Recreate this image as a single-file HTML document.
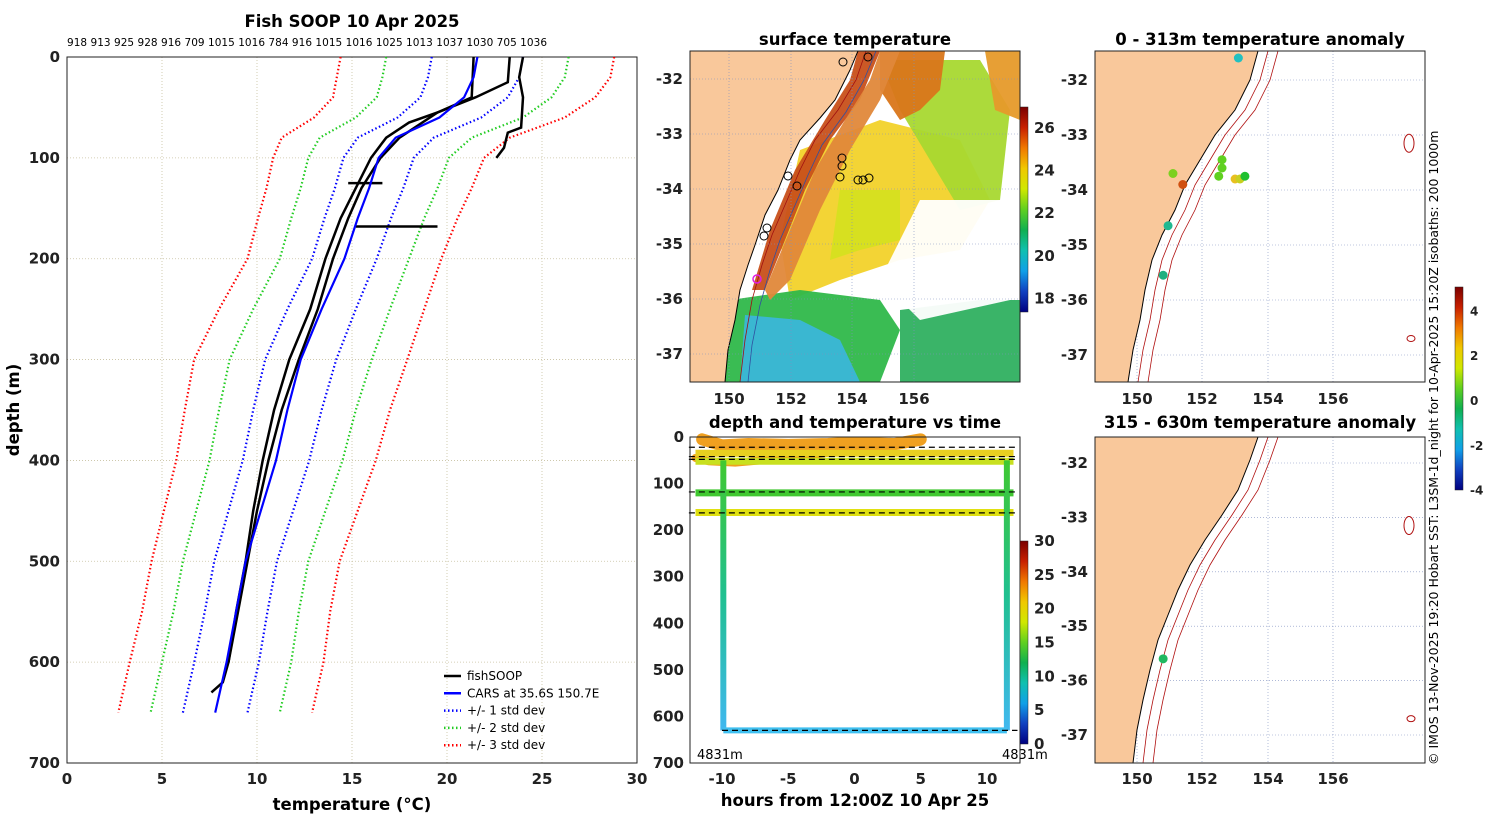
<!DOCTYPE html>
<html><head><meta charset="utf-8"><style>
body{margin:0;background:#fff;}
svg{display:block;font-family:"DejaVu Sans","Liberation Sans",sans-serif;}
.tk{font-size:15px;font-weight:bold;fill:#222;}
.tt{font-size:16.5px;font-weight:bold;fill:#000;}
</style></head><body>
<svg id="fig" width="1500" height="820" viewBox="0 0 1500 820">
<g id="left"></g>
<g id="mapTop"></g>
<g id="mid"></g>
<g id="rmap1"></g>
<g id="rmap2"></g>
<text x="1438" y="765" transform="rotate(-90 1438 765)" style="font-size:12.5px">© IMOS 13-Nov-2025 19:20 Hobart SST: L3SM-1d_night for 10-Apr-2025 15:20Z isobaths: 200  1000m</text>
</svg>
<script>
const NS="http://www.w3.org/2000/svg";
function el(parent,tag,attrs,text){const e=document.createElementNS(NS,tag);for(const k in attrs)e.setAttribute(k,attrs[k]);if(text!==undefined)e.textContent=text;parent.appendChild(e);return e;}

// ---------- LEFT PROFILE CHART DATA ----------
const depths=[0,20,40,60,80,100,130,160,200,250,300,350,400,450,500,550,600,650];
const carsMean=[21.6,21.4,20.9,19.6,17.3,16.4,15.9,15.3,14.6,13.4,12.3,11.6,11.0,10.2,9.4,8.9,8.4,7.8];
const carsSd=[2.4,2.4,2.3,2.2,2.0,1.85,1.8,1.75,1.7,1.8,1.87,1.8,1.75,1.7,1.65,1.65,1.7,1.7];
const topLabels=["918","913","925","928","916","709","1015","1016","784","916","1015","1016","1025","1013","1037","1030","705","1036"];
const xTicks=[0,5,10,15,20,25,30];
const yTicks=[0,100,200,300,400,500,600,700];
const prof1T=[21.4,21.3,19.5,18.0,16.8,16.0,15.2,14.4,13.6,12.8,11.7,10.9,10.3,9.8,9.4,8.9,8.5,8.2,7.6];
const prof1D=[0,40,55,65,80,100,130,160,200,250,300,350,400,450,500,550,600,620,630];
const prof2T=[23.3,23.2,21.5,19.5,17.5,16.5,15.5,14.8,14.0,13.2,12.2,11.3,10.6,10.0,9.5,9.0,8.5];
const prof2D=[0,25,40,55,80,100,130,160,200,250,300,350,400,450,500,550,600];
const prof3T=[24.0,23.8,24.0,23.9,23.2,23.0,22.6];
const prof3D=[0,20,40,70,75,90,100];
const segs=[[14.8,16.6,125],[15.2,19.5,168]];

const L=document.getElementById('left');
const lx=v=>67+v*19, ly=d=>57+d*706/700;
// grid
xTicks.forEach(t=>{if(t>0&&t<30)el(L,'line',{x1:lx(t),x2:lx(t),y1:57,y2:763,stroke:'#c8c0a0','stroke-dasharray':'1,2','stroke-width':0.8});});
yTicks.forEach(t=>{if(t>0&&t<700)el(L,'line',{x1:67,x2:637,y1:ly(t),y2:ly(t),stroke:'#c8c0a0','stroke-dasharray':'1,2','stroke-width':0.8});});
el(L,'rect',{x:67,y:57,width:570,height:706,fill:'none',stroke:'#222','stroke-width':1});
xTicks.forEach(t=>{const tx=el(L,'text',{x:lx(t),y:784,'text-anchor':'middle',class:'tk'},String(t));});
yTicks.forEach(t=>{const tx=el(L,'text',{x:60,y:ly(t)+5,'text-anchor':'end',class:'tk'},String(t));});
el(L,'text',{x:352,y:810,'text-anchor':'middle',class:'tt'},'temperature (\u00B0C)');
el(L,'text',{x:19,y:410,'text-anchor':'middle',class:'tt',transform:'rotate(-90 19 410)'},'depth (m)');
el(L,'text',{x:352,y:27,'text-anchor':'middle',class:'tt'},'Fish SOOP 10 Apr 2025');
el(L,'text',{x:67,y:46,style:'font-size:10.5px',textLength:480},topLabels.join(' '));
function poly(g,xs,ys,attrs,name){const p=el(g,'polyline',Object.assign({points:xs.map((x,i)=>x+','+ys[i]).join(' '),fill:'none'},attrs));return p;}
const sdCols={1:'#0000ff',2:'#22cc22',3:'#ff0000'};
[3,2,1].forEach(k=>{[-1,1].forEach(s=>{poly(L,carsMean.map((m,i)=>lx(m+s*k*carsSd[i])),depths.map(ly),{stroke:sdCols[k],'stroke-width':2.2,'stroke-dasharray':'1.5,2.5'},'std-dev-'+k+(s<0?'-minus':'-plus'));});});
poly(L,prof1T.map(lx),prof1D.map(ly),{stroke:'#000','stroke-width':2.5},'fishsoop-profile-1');
poly(L,prof2T.map(lx),prof2D.map(ly),{stroke:'#000','stroke-width':2.5},'fishsoop-profile-2');
poly(L,prof3T.map(lx),prof3D.map(ly),{stroke:'#000','stroke-width':2.5},'fishsoop-profile-3');
segs.forEach(s=>{poly(L,[lx(s[0]),lx(s[1])],[ly(s[2]),ly(s[2])],{stroke:'#000','stroke-width':2.5},'fishsoop-segment');});
poly(L,carsMean.map(lx),depths.map(ly),{stroke:'#0000ff','stroke-width':2.2},'cars-profile');
// legend
const leg=[['fishSOOP','#000',''],['CARS at 35.6S 150.7E','#0000ff',''],['+/- 1 std dev','#0000ff','1.5,2.5'],['+/- 2 std dev','#22cc22','1.5,2.5'],['+/- 3 std dev','#ff0000','1.5,2.5']];
leg.forEach((e,i)=>{const y=676+i*17.3;const g=el(L,'g',{});
el(g,'line',{x1:444,x2:461,y1:y,y2:y,stroke:e[1],'stroke-width':2.5,'stroke-dasharray':e[2]});el(g,'text',{x:467,y:y+4,style:'font-size:12px'},e[0]);});

// ---------- MIDDLE TOP MAP ----------
const M=document.getElementById('mapTop');
el(M,'rect',{x:690,y:51,width:330,height:331,fill:'#fff'});
const fields=[
 ['#f2d22a','800,150 880,120 960,140 990,200 960,250 900,260 840,280 790,300 780,240'],
 ['#a8d830','880,60 980,60 1010,110 1000,200 960,210 930,160 900,110'],
 ['#d5e020','840,190 900,190 900,240 860,250 830,260'],
 ['#d9761a','880,51 945,51 940,90 920,110 900,120 880,90'],
 ['#e69a2a','985,51 1020,51 1020,120 995,110'],
 ['#2fb84a','730,300 800,290 880,300 900,330 880,382 725,382'],
 ['#3ab6d8','745,315 800,320 840,340 860,382 740,382'],
 ['#2fb060','900,310 980,300 1020,300 1020,382 900,382'],
 ['#ffffff','920,200 1010,200 1010,300 920,320 880,280'],
 ['#c8501a','858,51 880,51 860,100 830,140 805,190 785,240 765,290 752,290 770,230 795,170 825,120 850,80'],
 ['#e0883a','880,51 900,51 880,100 850,150 820,210 790,280 770,300 765,290 790,230 815,170 845,120 870,80']
];
fields.forEach(f=>{const p=el(M,'polygon',{points:f[1],fill:f[0],opacity:0.95});});
const coastM='690,51 858,51 850,70 835,100 820,118 800,140 790,160 778,190 765,215 755,245 748,265 740,290 735,320 728,350 725,382 690,382';
el(M,'polygon',{points:coastM,fill:'#f9c89b',stroke:'#000','stroke-width':1});
el(M,'polyline',{points:'866,51 856,80 838,110 815,140 800,170 785,205 772,235 762,265 752,300 745,340 740,382',fill:'none',stroke:'#a01010','stroke-width':0.8});
el(M,'polyline',{points:'876,51 864,80 846,112 822,145 808,175 793,210 780,240 770,270 760,305 752,345 748,382',fill:'none',stroke:'#3050a0','stroke-width':0.8});
const mLonT=[150,152,154,156], mLonX=[729,791,852,914], mLatT=[-32,-33,-34,-35,-36,-37];
const mlat=v=>79+(-32-v)*55;
mLonT.forEach((t,i)=>{el(M,'line',{x1:mLonX[i],x2:mLonX[i],y1:51,y2:382,stroke:'#8090c0','stroke-dasharray':'1,2','stroke-width':0.6});el(M,'text',{x:mLonX[i],y:404,'text-anchor':'middle',class:'tk'},String(t));});
mLatT.forEach(t=>{el(M,'line',{x1:690,x2:1020,y1:mlat(t),y2:mlat(t),stroke:'#8090c0','stroke-dasharray':'1,2','stroke-width':0.6});el(M,'text',{x:683,y:mlat(t)+5,'text-anchor':'end',class:'tk'},String(t));});
el(M,'rect',{x:690,y:51,width:330,height:331,fill:'none',stroke:'#222'});
el(M,'text',{x:855,y:45,'text-anchor':'middle',class:'tt'},'surface temperature');
const circ=[[868,57],[843,62],[788,176],[797,186],[842,158],[842,166],[840,177],[858,180],[863,180],[869,178],[767,228],[764,236]];
circ.forEach(c=>{const e=el(M,'circle',{cx:c[0],cy:c[1],r:4,fill:'none',stroke:'#000','stroke-width':1});});
el(M,'circle',{cx:757,cy:279,r:4,fill:'none',stroke:'#e020e0','stroke-width':1.5});
// colorbar
const jet=['#7a0000','#c82000','#f07800','#f0c800','#d0e800','#60d020','#10b050','#10c0b0','#10a0e8','#1040c0','#000080'];
function cbar(g,x,y,h,id){const d=el(g,'defs',{});const lg=el(d,'linearGradient',{id:id,x1:0,y1:0,x2:0,y2:1});jet.forEach((c,i)=>el(lg,'stop',{offset:i/(jet.length-1),'stop-color':c}));el(g,'rect',{x:x,y:y,width:8,height:h,fill:'url(#'+id+')',stroke:'#222','stroke-width':0.5});}
cbar(M,1020,107,205,'cb1');
const cb1T=[26,24,22,20,18];
cb1T.forEach(t=>{el(M,'text',{x:1034,y:128+(26-t)*21.3+5,class:'tk'},String(t));});

// ---------- MIDDLE BOTTOM CHART ----------
const B=document.getElementById('mid');
const hx=h=>854.5+h*13.25, dy=d=>437+d*326/700;
const hTicks=[-10,-5,0,5,10], dTicks=[0,100,200,300,400,500,600,700];
const bandDepths=[35,52,120,162];
const bandCols=['#e8d020','#c8e020','#40c830','#e0e010'];
const dashDepths=[22,42,48,118,163,630];
const legHours=[-9.9,11.5];
const bottomDepth=630;
const orangeTrace=[[-12,45],[-11,52],[-9,55],[-7,50],[-5,42],[-3,38],[-1,30],[1,25],[3,20],[5,10]];
const orangeTop=[[-11.5,5],[-10,18],[-8,15],[-5,17],[-2,15],[0,12],[3,15],[5,5]];
el(B,'rect',{x:690,y:437,width:330,height:326,fill:'#fff'});
poly(B,orangeTrace.map(p=>hx(p[0])),orangeTrace.map(p=>dy(p[1])),{stroke:'#f0a020','stroke-width':8,'stroke-linecap':'round'},'surface-trace');
poly(B,orangeTop.map(p=>hx(p[0])),orangeTop.map(p=>dy(p[1])),{stroke:'#f0a020','stroke-width':12,'stroke-linecap':'round'},'surface-trace-top');
bandDepths.forEach((d,i)=>poly(B,[hx(-12),hx(12)],[dy(d),dy(d)],{stroke:bandCols[i],'stroke-width':7},'depth-band'));
legHours.forEach(h=>{const dd=el(B,'defs',{});const id='lg'+String(h).replace('.','_').replace('-','m');const lg=el(dd,'linearGradient',{id:id,x1:0,y1:0,x2:0,y2:1,gradientUnits:'userSpaceOnUse',x2v:0});lg.setAttribute('y1',dy(50));lg.setAttribute('y2',dy(630));lg.setAttribute('x1',0);lg.setAttribute('x2',0);
el(lg,'stop',{offset:0,'stop-color':'#40c830'});el(lg,'stop',{offset:0.5,'stop-color':'#20c090'});el(lg,'stop',{offset:1,'stop-color':'#40b8f0'});
const r=el(B,'rect',{x:hx(h)-3,y:dy(50),width:6,height:dy(630)-dy(50),fill:'url(#'+id+')'});});
poly(B,[hx(legHours[0]),hx(legHours[1])],[dy(bottomDepth),dy(bottomDepth)],{stroke:'#40c0f0','stroke-width':6},'bottom-track');
dashDepths.forEach(d=>poly(B,[hx(d===630?-10:-12.5),hx(12.3)],[dy(d),dy(d)],{stroke:'#000','stroke-width':1.2,'stroke-dasharray':'6,4'},'depth-marker-line'));
el(B,'rect',{x:690,y:437,width:330,height:326,fill:'none',stroke:'#222'});
hTicks.forEach(t=>el(B,'text',{x:hx(t),y:784,'text-anchor':'middle',class:'tk'},String(t)));
dTicks.forEach(t=>el(B,'text',{x:684,y:dy(t)+5,'text-anchor':'end',class:'tk'},String(t)));
el(B,'text',{x:855,y:806,'text-anchor':'middle',class:'tt'},'hours from 12:00Z 10 Apr 25');
el(B,'text',{x:855,y:428,'text-anchor':'middle',class:'tt'},'depth and temperature vs time');
el(B,'text',{x:697,y:759,style:'font-size:13px'},'4831m');
el(B,'text',{x:1002,y:759,style:'font-size:13px'},'4831m');
cbar(B,1020,541,203,'cb2');
[30,25,20,15,10,5,0].forEach(t=>el(B,'text',{x:1034,y:541+(30-t)*203/30+5,class:'tk'},String(t)));

// ---------- RIGHT MAPS ----------
const rLonT=[150,152,154,156], rLonX=[1137,1202,1268,1333];
const rLatT=[-32,-33,-34,-35,-36,-37];
const dotLon=[153.1,151.1,151.4,152.6,152.6,152.5,153.0,153.15,153.3,150.95,150.8];
const dotLat=[-31.6,-33.7,-33.9,-33.45,-33.6,-33.75,-33.8,-33.8,-33.75,-34.65,-35.55];
const dotCol=['#22c0c0','#7cd020','#d05010','#60d020','#60d020','#60d020','#e8c020','#c8d020','#20c030','#20b890','#20b080'];
const dot2Lon=[150.8], dot2Lat=[-35.6], dot2Col=['#20b860'];
function rmap(g,y0,latY0,latStep,coast,lons,lats,cols,title,ty){
 const lonX=v=>1137+(v-150)*32.7, latY=v=>latY0+(-32-v)*latStep;
 el(g,'rect',{x:1095,y:y0,width:330,height:(y0<400?331:326),fill:'#fff'});
 rLonX.forEach(x=>el(g,'line',{x1:x,x2:x,y1:y0,y2:y0+(y0<400?331:326),stroke:'#8090c0','stroke-dasharray':'1,2','stroke-width':0.6}));
 rLatT.forEach(t=>{el(g,'line',{x1:1095,x2:1425,y1:latY(t),y2:latY(t),stroke:'#8090c0','stroke-dasharray':'1,2','stroke-width':0.6});el(g,'text',{x:1088,y:latY(t)+5,'text-anchor':'end',class:'tk'},String(t));});
 const pts=coast.map(p=>p.join(',')).join(' ');
 el(g,'polygon',{points:'1095,'+coast[0][1]+' '+pts+' 1095,'+coast[coast.length-1][1],fill:'#f9c89b',stroke:'#000','stroke-width':1});
 [10,20].forEach(o=>el(g,'polyline',{points:coast.map(p=>(p[0]+o)+','+p[1]).join(' '),fill:'none',stroke:'#b01010','stroke-width':0.8}));
 el(g,'ellipse',{cx:1409,cy:latY(-33.15),rx:5,ry:9,fill:'none',stroke:'#b01010'});
 el(g,'ellipse',{cx:1411,cy:latY(-36.7),rx:4,ry:3,fill:'none',stroke:'#b01010'});
 lons.forEach((lo,i)=>{const c=el(g,'circle',{cx:lonX(lo),cy:latY(lats[i]),r:4.5,fill:cols[i]});});
 el(g,'rect',{x:1095,y:y0,width:330,height:(y0<400?331:326),fill:'none',stroke:'#222'});
 el(g,'text',{x:1260,y:ty,'text-anchor':'middle',class:'tt'},title);
}
const R1=document.getElementById('rmap1'), R2=document.getElementById('rmap2');
rmap(R1,51,80,55,[[1258,51],[1250,80],[1235,110],[1215,135],[1200,160],[1185,185],[1175,210],[1162,235],[1152,260],[1145,290],[1140,320],[1133,350],[1128,382]],dotLon,dotLat,dotCol,'0 - 313m temperature anomaly',45);
rmap(R2,437,463,54.4,[[1258,437],[1250,460],[1238,490],[1222,515],[1205,540],[1190,565],[1178,590],[1168,615],[1158,640],[1150,670],[1143,700],[1137,730],[1133,763]],dot2Lon,dot2Lat,dot2Col,'315 - 630m temperature anomaly',428);
rLonT.forEach((t,i)=>{el(R1,'text',{x:rLonX[i],y:404,'text-anchor':'middle',class:'tk'},String(t));el(R2,'text',{x:rLonX[i],y:784,'text-anchor':'middle',class:'tk'},String(t));});
cbar(R1,1455,287,203,'cb3');
[4,2,0,-2,-4].forEach(t=>el(R1,'text',{x:1470,y:400-t*22.4+5,class:'tk',style:'font-size:12px'},String(t)));
</script>
</body></html>
